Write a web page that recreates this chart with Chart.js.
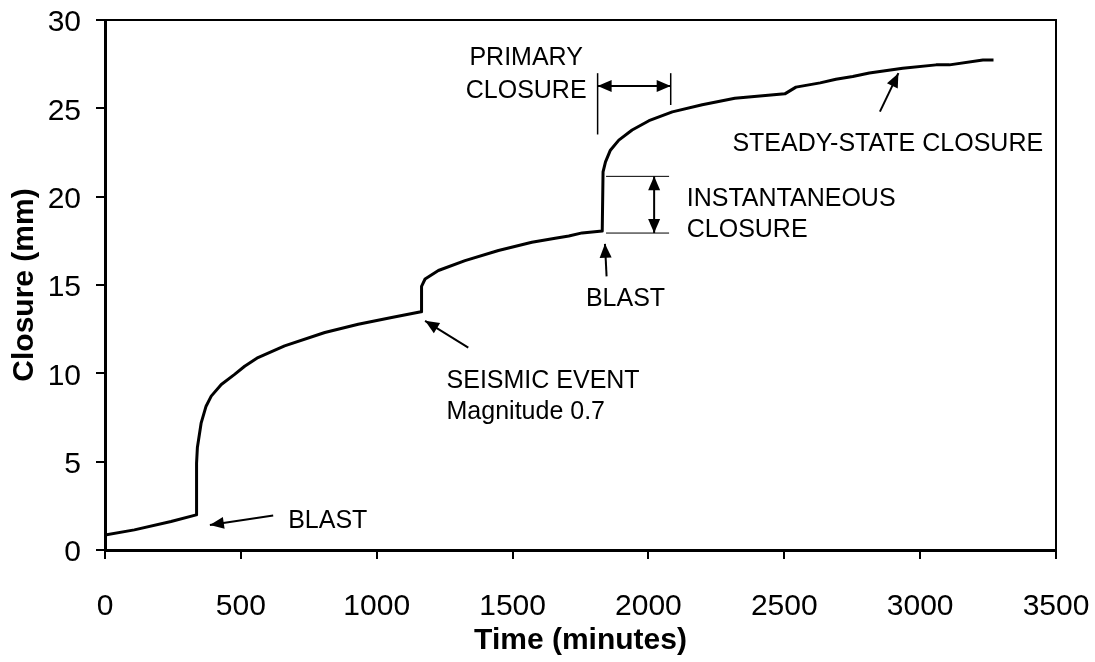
<!DOCTYPE html>
<html>
<head>
<meta charset="utf-8">
<script src="https://cdn.jsdelivr.net/npm/chart.js@4/dist/chart.umd.min.js"></script>
<style>
  html, body { margin: 0; padding: 0; background: #fff; }
  #wrap { width: 1095px; height: 662px; position: relative; }
</style>
</head>
<body>
<div id="wrap"><canvas id="myCanvas"></canvas></div>
<script>
// closure curve (time in minutes, closure in mm)
const timeMin = [0, 108, 243, 336, 337, 340, 354, 372, 391, 428, 477, 514, 563, 661, 809, 932, 1055,
  1163, 1165, 1178, 1227, 1325, 1448, 1571, 1657, 1707, 1756, 1830,
  1833, 1842, 1860, 1891, 1940, 2002, 2088, 2198, 2318, 2502, 2543, 2632, 2690, 2752, 2813, 2936,
  3059, 3108, 3231, 3270];
const closureMm = [0.85, 1.14, 1.61, 1.99, 4.9, 5.8, 7.2, 8.14, 8.71, 9.37, 9.94, 10.4, 10.89, 11.55, 12.31, 12.78, 13.16,
  13.49, 14.92, 15.34, 15.82, 16.38, 16.95, 17.42, 17.65, 17.77, 17.95, 18.05,
  21.4, 21.97, 22.63, 23.2, 23.77, 24.3, 24.8, 25.2, 25.57, 25.82, 26.2, 26.44, 26.65, 26.8, 27.0, 27.27,
  27.46, 27.46, 27.74, 27.74];

const xTickValues = [0, 500, 1000, 1500, 2000, 2500, 3000, 3500];
const yTickValues = [0, 5, 10, 15, 20, 25, 30];

// annotation texts and pointers, in data units
const notes = [
  {text: 'BLAST', x: 674, y: 1.61},
  {text: 'SEISMIC EVENT', x: 1257, y: 9.56},
  {text: 'Magnitude 0.7', x: 1257, y: 7.78},
  {text: 'BLAST', x: 1770, y: 14.2},
  {text: 'INSTANTANEOUS', x: 2141, y: 19.89},
  {text: 'CLOSURE', x: 2141, y: 18.09},
  {text: 'PRIMARY', x: 1550, y: 27.87, align: 'center'},
  {text: 'CLOSURE', x: 1550, y: 26.0, align: 'center'},
  {text: 'STEADY-STATE CLOSURE', x: 2309, y: 22.95}
];
const arrows = [
  {from: [619, 1.95], to: [386, 1.42]},
  {from: [1337, 11.46], to: [1178, 12.97]},
  {from: [1846, 15.49], to: [1840, 17.33]},
  {from: [2852, 24.81], to: [2920, 26.99]}
];
const doubleArrows = [
  {a: [2021, 21.15], b: [2021, 17.94]},
  {a: [1813, 26.27], b: [2082, 26.27]}
];
const guides = [
  {a: [1844, 21.15], b: [2076, 21.15], w: 1},
  {a: [1844, 17.94], b: [2076, 17.94], w: 1},
  {a: [1813, 26.99], b: [1813, 23.52], w: 1.5},
  {a: [2082, 26.99], b: [2082, 25.19], w: 1.5}
];

const FONT = '"Liberation Sans", Arial, sans-serif';

function head(ctx, x0, y0, x1, y1) {
  const ang = Math.atan2(y1 - y0, x1 - x0);
  const len = 14, hw = 6;
  ctx.beginPath();
  ctx.moveTo(x1, y1);
  ctx.lineTo(x1 - len * Math.cos(ang) + hw * Math.sin(ang), y1 - len * Math.sin(ang) - hw * Math.cos(ang));
  ctx.lineTo(x1 - len * Math.cos(ang) - hw * Math.sin(ang), y1 - len * Math.sin(ang) + hw * Math.cos(ang));
  ctx.closePath();
  ctx.fill();
}

const annotate = {
  id: 'annotate',
  afterDatasetsDraw(chart) {
    const ctx = chart.ctx;
    const xs = chart.scales.x, ys = chart.scales.y;
    const px = v => xs.getPixelForValue(v);
    const py = v => ys.getPixelForValue(v);
    const area = chart.chartArea;
    ctx.save();
    ctx.strokeStyle = '#000';
    ctx.fillStyle = '#000';

    // top and right frame
    ctx.lineWidth = 2;
    ctx.beginPath();
    ctx.moveTo(area.left, area.top);
    ctx.lineTo(area.right, area.top);
    ctx.lineTo(area.right, area.bottom);
    ctx.stroke();

    guides.forEach(g => {
      ctx.lineWidth = g.w;
      ctx.beginPath();
      ctx.moveTo(px(g.a[0]), py(g.a[1]));
      ctx.lineTo(px(g.b[0]), py(g.b[1]));
      ctx.stroke();
    });

    ctx.lineWidth = 2;
    arrows.forEach(a => {
      const x0 = px(a.from[0]), y0 = py(a.from[1]), x1 = px(a.to[0]), y1 = py(a.to[1]);
      ctx.beginPath();
      ctx.moveTo(x0, y0);
      ctx.lineTo(x1, y1);
      ctx.stroke();
      head(ctx, x0, y0, x1, y1);
    });
    doubleArrows.forEach(a => {
      const x0 = px(a.a[0]), y0 = py(a.a[1]), x1 = px(a.b[0]), y1 = py(a.b[1]);
      ctx.beginPath();
      ctx.moveTo(x0, y0);
      ctx.lineTo(x1, y1);
      ctx.stroke();
      head(ctx, x0, y0, x1, y1);
      head(ctx, x1, y1, x0, y0);
    });

    ctx.font = '25px ' + FONT;
    ctx.textBaseline = 'middle';
    notes.forEach(n => {
      ctx.textAlign = n.align || 'left';
      ctx.fillText(n.text, px(n.x), py(n.y));
    });
    ctx.restore();
  }
};

// keep the plot box where the picture has it: no extra room for edge labels
function noEdgePadding(s) {
  s.paddingTop = 0;
  s.paddingBottom = 0;
  s.paddingLeft = 0;
  s.paddingRight = 0;
}

const points = timeMin.map((t, i) => ({x: t, y: closureMm[i]}));

const ctx = document.getElementById('myCanvas').getContext('2d');
new Chart(ctx, {
  type: 'line',
  data: {
    datasets: [{
      label: 'Closure',
      data: points,
      borderColor: '#000',
      borderWidth: 3,
      borderJoinStyle: 'round',
      pointRadius: 0,
      tension: 0,
      fill: false
    }]
  },
  options: {
    responsive: true,
    maintainAspectRatio: false,
    animation: false,
    layout: {padding: {top: 20, right: 39, left: 0, bottom: 0}},
    plugins: {legend: {display: false}, tooltip: {enabled: false}},
    scales: {
      x: {
        type: 'linear',
        min: 0,
        max: 3500,
        afterBuildTicks: s => { s.ticks = xTickValues.map(v => ({value: v})); },
        afterFit: s => { s.height = 112; noEdgePadding(s); },
        border: {display: true, color: '#000', width: 3},
        grid: {drawOnChartArea: false, drawTicks: true, tickLength: 9, color: '#000', lineWidth: 2},
        ticks: {color: '#000', font: {family: FONT, size: 30}, padding: 30, maxRotation: 0, autoSkip: false,
          callback: v => String(v)},
        title: {display: true, text: 'Time (minutes)', color: '#000',
          font: {family: FONT, size: 30, weight: 'bold'}, padding: {top: 0, bottom: 3}}
      },
      y: {
        min: 0,
        max: 30,
        afterBuildTicks: s => { s.ticks = yTickValues.map(v => ({value: v})); },
        afterFit: s => { s.width = 105; noEdgePadding(s); },
        border: {display: true, color: '#000', width: 3},
        grid: {drawOnChartArea: false, drawTicks: true, tickLength: 9, color: '#000', lineWidth: 2},
        ticks: {color: '#000', font: {family: FONT, size: 30}, padding: 15, labelOffset: 3,
          callback: v => String(v)},
        title: {display: true, text: 'Closure (mm)', color: '#000',
          font: {family: FONT, size: 30, weight: 'bold'}, padding: {top: 7, bottom: 0}}
      }
    }
  },
  plugins: [annotate]
});
</script>
</body>
</html>
